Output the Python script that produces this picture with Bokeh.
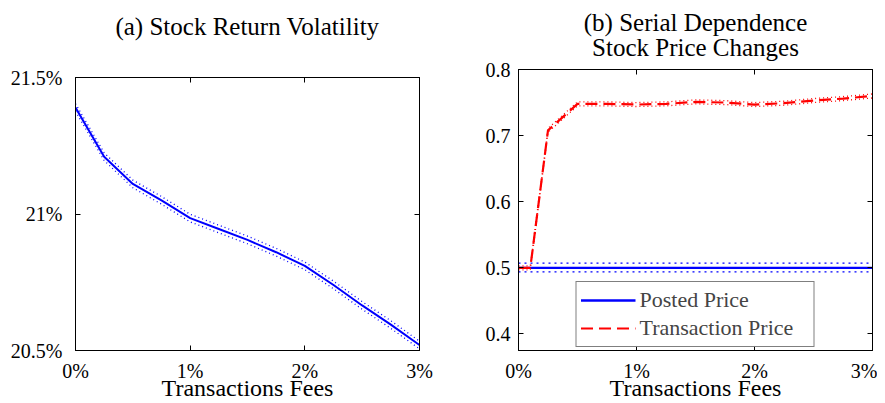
from bokeh.plotting import figure
from bokeh.layouts import row
from bokeh.models import FixedTicker, LinearAxis, Range1d, Legend, LegendItem
from bokeh.embed import file_html
from bokeh.resources import INLINE

FONT = "Liberation Serif"

# ---- data (a) ----
fees_a = [0, 0.25, 0.5, 0.75, 1.0, 1.25, 1.5, 1.75, 2.0, 2.25, 2.5, 2.75, 3.0]
vol = [21.39, 21.21, 21.11, 21.05, 20.985, 20.945, 20.905, 20.86, 20.81, 20.74, 20.665, 20.595, 20.52]
vol_hi = [21.404, 21.224, 21.124, 21.064, 20.999, 20.959, 20.919, 20.874, 20.824, 20.754, 20.679, 20.609, 20.534]
vol_lo = [21.376, 21.196, 21.096, 21.036, 20.971, 20.931, 20.891, 20.846, 20.796, 20.726, 20.651, 20.581, 20.506]

# ---- data (b) ----
fees_b = [0, 0.1, 0.25, 0.5, 0.75, 1.0, 1.25, 1.5, 1.75, 2.0, 2.25, 2.5, 2.75, 3.0]
posted = [0.5, 0.5, 0.5, 0.5, 0.5, 0.5, 0.5, 0.5, 0.5, 0.5, 0.5, 0.5, 0.5, 0.5]
posted_hi = [0.507, 0.507, 0.507, 0.507, 0.507, 0.507, 0.507, 0.507, 0.507, 0.507, 0.507, 0.507, 0.507, 0.507]
posted_lo = [0.494, 0.494, 0.494, 0.494, 0.494, 0.494, 0.494, 0.494, 0.494, 0.494, 0.494, 0.494, 0.494, 0.494]
trans = [0.5, 0.5, 0.708, 0.748, 0.748, 0.747, 0.748, 0.751, 0.750, 0.747, 0.749, 0.753, 0.756, 0.760]
trans_hi = [0.503, 0.503, 0.711, 0.751, 0.751, 0.750, 0.751, 0.754, 0.753, 0.750, 0.752, 0.756, 0.759, 0.763]
trans_lo = [0.497, 0.497, 0.705, 0.745, 0.745, 0.744, 0.745, 0.748, 0.747, 0.744, 0.746, 0.750, 0.753, 0.757]

x_ticks = [0, 1, 2, 3]
x_labels = ["0%", "1%", "2%", "3%"]
ya_ticks = [20.5, 21, 21.5]
ya_labels = ["20.5%", "21%", "21.5%"]
yb_ticks = [0.4, 0.5, 0.6, 0.7, 0.8]
yb_labels = ["0.4", "0.5", "0.6", "0.7", "0.8"]

title_a = "(a) Stock Return Volatility"
title_b = "(b) Serial Dependence\nStock Price Changes"
x_title = "Transactions Fees"


def style_axis(ax, ticks, labels, show=True, standoff=1):
    ax.ticker = FixedTicker(ticks=ticks)
    ax.major_label_overrides = {t: l for t, l in zip(ticks, labels)}
    ax.major_tick_in = 5
    ax.major_tick_out = 0
    ax.minor_tick_in = 0
    ax.minor_tick_out = 0
    ax.major_tick_line_color = "black"
    ax.axis_line_color = "black"
    ax.major_label_text_font = FONT
    ax.major_label_text_color = "black"
    ax.major_label_standoff = standoff
    if show:
        ax.major_label_text_font_size = "20px"
    else:
        ax.major_label_text_font_size = "0px"
        ax.major_label_standoff = 0


def setup(p, yt, yl, ystand, title, title_standoff):
    p.xgrid.visible = False
    p.ygrid.visible = False
    p.outline_line_color = "black"
    p.outline_line_width = 1
    style_axis(p.xaxis[0], x_ticks, x_labels, standoff=9)
    style_axis(p.yaxis[0], yt, yl, standoff=ystand)
    xa = p.xaxis[0]
    xa.axis_label = x_title
    xa.axis_label_text_font = FONT
    xa.axis_label_text_font_size = "24px"
    xa.axis_label_text_font_style = "normal"
    xa.axis_label_text_color = "black"
    xa.axis_label_text_line_height = 0.5
    xa.axis_label_standoff = -10
    top = LinearAxis()
    style_axis(top, x_ticks, ["", "", "", ""], show=False)
    top.axis_label = title
    top.axis_label_text_font = FONT
    top.axis_label_text_font_size = "25px"
    top.axis_label_text_font_style = "normal"
    top.axis_label_text_color = "black"
    top.axis_label_text_line_height = 0.9
    top.axis_label_standoff = title_standoff
    p.add_layout(top, "above")
    right = LinearAxis()
    style_axis(right, yt, ["" for _ in yt], show=False)
    p.add_layout(right, "right")


p1 = figure(width=460, height=403, x_range=Range1d(0, 3), y_range=Range1d(20.5, 21.5),
            output_backend="svg", toolbar_location=None, frame_align=False,
            min_border_left=75, min_border_right=41, min_border_top=77, min_border_bottom=53)
setup(p1, ya_ticks, ya_labels, 13, title_a, 38)
p1.line(fees_a, vol_hi, line_color="#0000FF", line_width=1.3, line_dash="1 3")
p1.line(fees_a, vol_lo, line_color="#0000FF", line_width=1.3, line_dash="1 3")
p1.line(fees_a, vol, line_color="#0000FF", line_width=2)

p2 = figure(width=417, height=403, x_range=Range1d(0, 3), y_range=Range1d(0.375, 0.8),
            output_backend="svg", toolbar_location=None, frame_align=False,
            min_border_left=58, min_border_right=5, min_border_top=69, min_border_bottom=53)
setup(p2, yb_ticks, yb_labels, 8, title_b, 9)

p2.line(fees_b, posted_hi, line_color="#0000FF", line_width=1.3, line_dash="2 4")
p2.line(fees_b, posted_lo, line_color="#0000FF", line_width=1.3, line_dash="2 4")
r_posted = p2.line(fees_b, posted, line_color="#0000FF", line_width=2.4)
p2.line(fees_b, trans_hi, line_color="#FF0000", line_width=1.3, line_dash="1 3")
p2.line(fees_b, trans_lo, line_color="#FF0000", line_width=1.3, line_dash="1 3")
r_trans = p2.line(fees_b, trans, line_color="#FF0000", line_width=2.2, line_dash="12 6")

legend = Legend(items=[LegendItem(label="Posted Price", renderers=[r_posted]),
                       LegendItem(label="Transaction Price", renderers=[r_trans])],
                location="bottom_center", margin=3, padding=4, spacing=0,
                border_line_color="black", border_line_width=1,
                label_text_font=FONT, label_text_font_size="22px",
                glyph_width=55, glyph_height=28, label_standoff=4,
                label_height=28, label_width=170)
p2.add_layout(legend)

layout = row(p1, p2)
open("out.html", "w").write(file_html(layout, INLINE))
